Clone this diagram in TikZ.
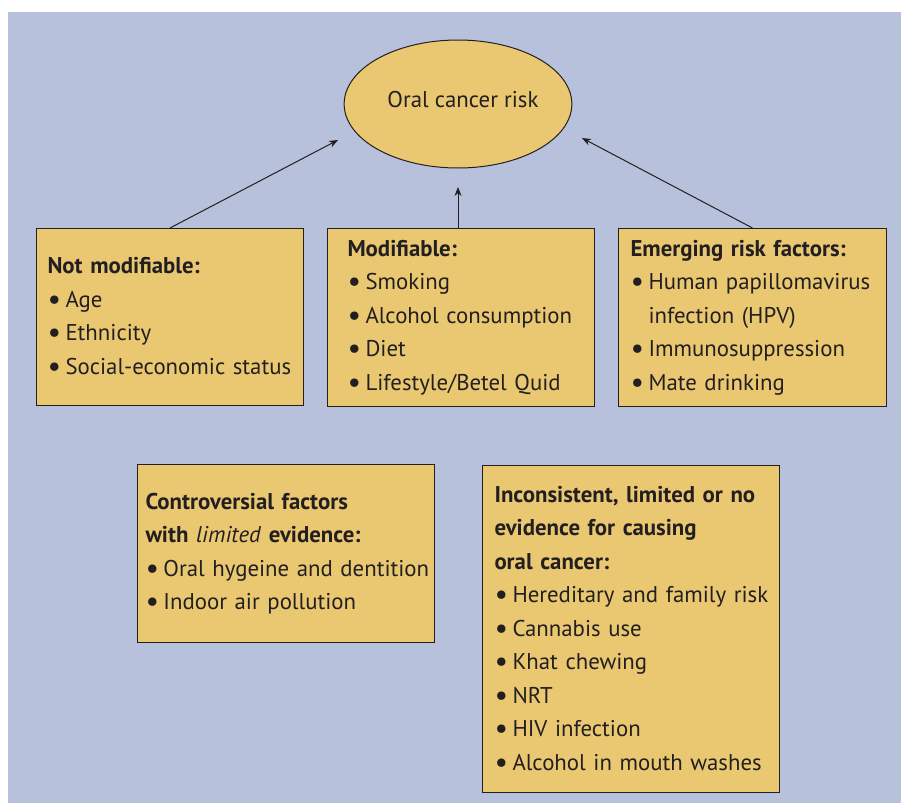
\documentclass[tikz,border=0pt]{standalone}
\usepackage{fontspec}
\setmainfont{PT Sans}
\usetikzlibrary{shapes.geometric,arrows.meta}
\definecolor{backblue}{RGB}{184,193,219}
\definecolor{ochre}{RGB}{233,200,113}
\definecolor{ink}{RGB}{35,31,32}
\newcommand{\dotmark}{\raisebox{-1pt}{\fontsize{15}{15}\selectfont\textbullet}}
\newcommand{\itm}[1]{\mbox{\makebox[9pt][l]{\dotmark}#1}}
\newcommand{\cont}[1]{\mbox{\hspace*{9pt}#1}}
\newcommand{\head}[1]{\mbox{\textbf{#1}}}
\tikzset{
  factor/.style={draw=ink, fill=ochre, anchor=north west, align=left, inner ysep=0pt,
    text=ink, font=\fontsize{11.4}{16.75}\selectfont},
  pointer/.style={draw=ink, -{Stealth[length=4.5pt,width=3.5pt]}}
}
\begin{document}
\begin{tikzpicture}[x=0.5pt, y=-0.5pt, line width=0.5pt]
\useasboundingbox (0,0) rectangle (901,803);
\fill[backblue] (8,12) rectangle (901,803);
\node[ellipse, draw=ink, fill=ochre, minimum width=112pt, minimum height=64pt, inner sep=0pt,
  text=ink, font=\fontsize{11.4}{13}\selectfont] (risk) at (458,104) {\hspace*{5pt}Oral cancer risk\raisebox{0pt}[0pt][5pt]{}};
\node[factor, inner xsep=5.5pt, text width=122.5pt, minimum height=88.5pt] (fixed) at (36,228)
  {\head{Not modifiable:}\\ \itm{Age}\\ \itm{Ethnicity}\\ \itm{Social-economic status}};
\node[factor, inner xsep=10pt, text width=113.5pt, minimum height=89pt] (changeable) at (327,228)
  {\head{Modifiable:}\\ \itm{Smoking}\\ \itm{Alcohol consumption}\\ \itm{Diet}\\ \itm{Lifestyle/Betel Quid}};
\node[factor, inner xsep=6pt, text width=122pt, minimum height=89pt] (emerging) at (618,228)
  {\head{Emerging risk factors:}\\ \itm{Human papillomavirus}\\ \cont{infection (HPV)}\\ \itm{Immunosuppression}\\ \itm{Mate drinking}};
\node[factor, inner xsep=4pt, text width=140.5pt, minimum height=89pt] (controversial) at (137,464)
  {\head{Controversial factors}\\ \head{with \textmd{\textit{limited}} evidence:}\\ \itm{Oral hygeine and dentition}\\ \itm{Indoor air pollution}};
\node[factor, inner xsep=6pt, text width=136.5pt, minimum height=163.5pt] (inconsistent) at (482,465)
  {\head{Inconsistent, limited or no}\\ \head{evidence for causing}\\ \head{oral cancer:}\\ \itm{Hereditary and family risk}\\ \itm{Cannabis use}\\ \itm{Khat chewing}\\ \itm{NRT}\\ \itm{HIV infection}\\ \itm{Alcohol in mouth washes}};
\coordinate (endL) at (338,140);
\coordinate (endM) at (458,187);
\coordinate (endR) at (582,138);
\draw[pointer] (fixed.north) -- (endL);
\draw[pointer] (endM |- changeable.north) -- (endM);
\draw[pointer] (emerging.north) -- (endR);
\end{tikzpicture}
\end{document}
